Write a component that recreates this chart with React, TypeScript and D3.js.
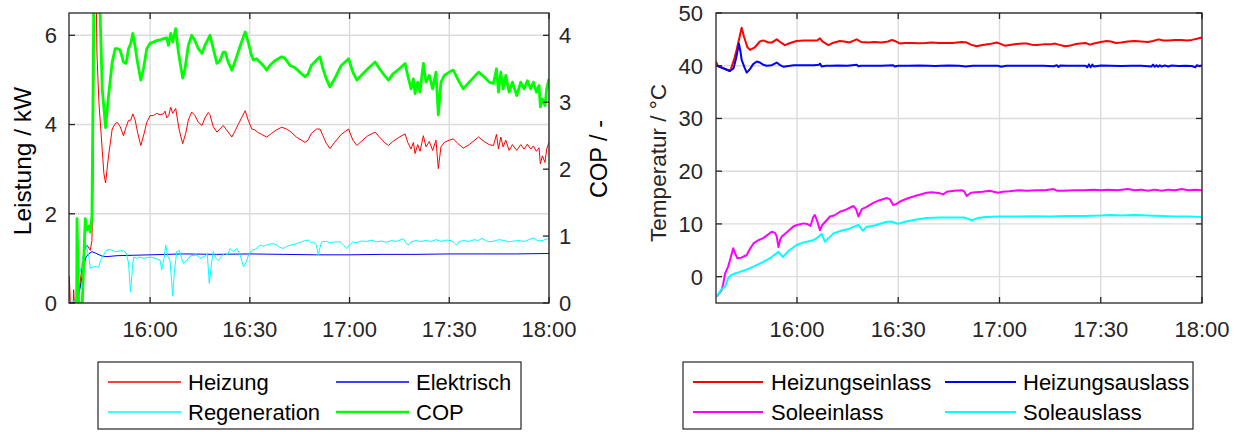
import React from 'react';
import * as d3 from 'd3';

// ---------- data (time in minutes after 15:00) ----------
const timeTicks = ['16:00', '16:30', '17:00', '17:30', '18:00'];
const leistungTicks = [0, 2, 4, 6];
const copTicks = [0, 1, 2, 3, 4];
const tempTicks = [0, 10, 20, 30, 40, 50];

const legendLeft = ['Heizung', 'Elektrisch', 'Regeneration', 'COP'];
const legendRight = ['Heizungseinlass', 'Heizungsauslass', 'Soleeinlass', 'Soleauslass'];

const heizung: [number, number][] = [
  [35.6, 0], [35.7, 0.6], [36.0, 0], [36.9, 0], [37.0, 0.3], [37.2, 0], [38.5, 0.2], [39.5, 0.8], [40.5, 1.26], [41.0, 1.3],
  [42.0, 1.18], [42.5, 1.4], [42.9, 3.0], [43.1, 5.5], [43.3, 7.5], [43.7, 7.5], [44.0, 5.6], [44.6, 4.5], [45.6, 3.42], [46.1, 2.9],
  [46.6, 2.69], [47.5, 3.3], [48.6, 3.9], [49.5, 4.02], [50.1, 4.05], [51.0, 3.95], [52.0, 3.75], [52.8, 3.95], [53.5, 4.09], [54.2, 4.1],
  [54.8, 4.24], [55.5, 4.1], [56.3, 3.8], [57.2, 3.53], [58.2, 3.8], [59, 4.05], [60, 4.2], [61, 4.2], [62, 4.25], [63, 4.22],
  [64, 4.24], [64.5, 4.3], [65, 4.15], [65.6, 4.2], [66.2, 4.39], [66.8, 4.25], [67.2, 4.3], [67.7, 4.36], [68.7, 3.9], [69.8, 3.57],
  [70.7, 3.8], [71.5, 4.1], [72.5, 4.28], [73.5, 4.2], [74.5, 4.05], [75.6, 3.98], [76.5, 4.15], [77.5, 4.27], [78, 4.22], [79, 3.95],
  [80.1, 3.83], [81, 3.9], [82, 3.98], [83, 3.88], [84.6, 3.72], [85.5, 3.85], [86.5, 4.0], [87.5, 4.15], [88.6, 4.31], [89.5, 4.1],
  [90.6, 3.9], [91.5, 3.88], [92.5, 3.82], [93.5, 3.78], [95.1, 3.72], [96.5, 3.8], [98, 3.88], [99.6, 3.94], [101, 3.9], [102.1, 3.85],
  [104, 3.72], [106.6, 3.6], [107.5, 3.65], [108.5, 3.8], [110.1, 3.9], [111.1, 3.9], [112, 3.75], [113, 3.58], [114.1, 3.46], [115.5, 3.6],
  [117.5, 3.78], [119.7, 3.9], [121, 3.65], [122.2, 3.53], [123.5, 3.62], [125.5, 3.75], [127.7, 3.83], [129, 3.72], [130.5, 3.6], [131.7, 3.53],
  [133, 3.62], [135, 3.72], [136.7, 3.79], [137.5, 3.6], [138.5, 3.45], [139.2, 3.6], [139.7, 3.35], [140.5, 3.55], [141.2, 3.4], [142.2, 3.75],
  [143, 3.5], [144, 3.62], [145, 3.42], [146, 3.65], [146.7, 3.01], [147.5, 3.5], [148.5, 3.6], [150, 3.65], [151.2, 3.68], [152.5, 3.58],
  [154.2, 3.47], [156, 3.55], [158.8, 3.72], [160.5, 3.62], [162, 3.55], [163.3, 3.53], [164.2, 3.78], [164.8, 3.45], [165.5, 3.72], [166.2, 3.5],
  [167, 3.65], [168, 3.42], [169, 3.55], [170.3, 3.42], [171.5, 3.55], [172.5, 3.45], [173.5, 3.56], [174.5, 3.45], [175.3, 3.52], [176.2, 3.4],
  [177, 3.48], [177.4, 3.12], [178, 3.3], [178.8, 3.15], [179.3, 3.45], [180, 3.6],
];

const elektrisch: [number, number][] = [
  [35.6, 0], [38.0, 0], [39.0, 0.36], [40.0, 0.81], [40.7, 1.03], [41.5, 1.1], [42.5, 1.15], [43.5, 1.12], [45.6, 1.05], [47, 1.04],
  [50, 1.06], [55, 1.07], [60, 1.08], [70, 1.1], [80, 1.09], [90, 1.1], [100, 1.09], [110, 1.08], [120, 1.08], [130, 1.09],
  [140, 1.09], [150, 1.1], [160, 1.1], [170, 1.1], [180, 1.11],
];

const regeneration: [number, number][] = [
  [35.6, 0.04], [37.5, 0.04], [38.3, 0.3], [38.7, 0.66], [39.3, 0.8], [40.5, 1.37], [41.6, 1.03], [42.0, 0.78], [43.1, 0.82], [44.5, 0.8],
  [45.1, 0.95], [46.8, 1.18], [48, 1.2], [49.5, 1.15], [51, 1.17], [52, 1.17], [52.8, 1.12], [53.5, 0.9], [54.1, 0.25], [54.6, 0.7],
  [55, 1.03], [56, 1.0], [57, 1.03], [58, 1.0], [60, 1.03], [61.5, 1.0], [63, 0.96], [63.5, 0.74], [64.2, 1.0], [64.7, 1.3],
  [65.3, 1.05], [66.0, 0.95], [66.8, 0.16], [67.3, 0.7], [68, 1.15], [68.8, 1.18], [69.5, 1.0], [70, 0.89], [71, 0.95], [72, 1.05],
  [73, 1.07], [74, 1.08], [75, 1.0], [76.5, 1.05], [77.2, 1.1], [77.8, 0.44], [78.5, 0.9], [79, 1.15], [79.8, 1.0], [80.5, 0.95],
  [81.5, 1.05], [82.5, 1.12], [83.3, 1.08], [84.1, 1.22], [85, 1.15], [86.1, 1.22], [87, 1.1], [88.1, 0.81], [88.8, 0.9], [89.5, 1.05],
  [90.6, 1.18], [91.5, 1.2], [92.5, 1.25], [93.1, 1.3], [94, 1.27], [95, 1.3], [96, 1.32], [97.1, 1.33], [98, 1.3], [99, 1.25],
  [100.1, 1.22], [101, 1.27], [102.5, 1.3], [104, 1.33], [105.5, 1.37], [106.5, 1.4], [107.6, 1.41], [108.5, 1.35], [109.1, 1.37], [110.0, 1.3],
  [110.6, 1.07], [111.3, 1.3], [111.6, 1.37], [113, 1.38], [114, 1.35], [115.5, 1.37], [117.2, 1.37], [118.2, 1.3], [119.2, 1.22], [120, 1.3],
  [121, 1.37], [122, 1.35], [123.5, 1.39], [125, 1.38], [126.7, 1.41], [128, 1.37], [129.5, 1.39], [131, 1.36], [132.5, 1.4], [134, 1.38],
  [135.5, 1.42], [136.2, 1.44], [136.9, 1.35], [137.7, 1.3], [138.5, 1.37], [140, 1.4], [141.5, 1.38], [143, 1.4], [144.5, 1.38], [146, 1.42],
  [147.5, 1.38], [149, 1.41], [150.5, 1.4], [151.5, 1.35], [152.2, 1.3], [153, 1.38], [154.5, 1.4], [156, 1.38], [157.5, 1.42], [158.7, 1.4],
  [159.8, 1.45], [161, 1.4], [162, 1.37], [163.5, 1.39], [165, 1.42], [166.5, 1.4], [168, 1.37], [169.5, 1.39], [171, 1.4], [172.5, 1.38],
  [174, 1.42], [175.3, 1.46], [176.3, 1.41], [177.3, 1.39], [178.5, 1.41], [179.5, 1.44], [180, 1.43],
];

const cop: [number, number][] = [
  [37.9, 0], [38.0, 1.26], [38.2, 0.8], [38.5, 0], [39.6, 0], [40.3, 1.0], [40.5, 1.26], [41.0, 1.09], [41.6, 1.15], [42.0, 1.06],
  [42.5, 1.3], [42.9, 3.5], [43.2, 5.5], [44.3, 6.0], [44.8, 4.6], [45.6, 3.2], [46.6, 2.62], [47.5, 3.1], [48.6, 3.6], [49.5, 3.8],
  [50.2, 3.8], [51.0, 3.78], [52.0, 3.6], [52.8, 3.58], [53.5, 3.8], [54.2, 3.88], [54.8, 4.03], [55.5, 3.83], [56.2, 3.6], [57.2, 3.33],
  [58.0, 3.5], [59.0, 3.8], [60.0, 3.88], [61, 3.9], [62, 3.92], [63, 3.93], [64, 3.95], [65, 3.96], [65.5, 3.85], [66.2, 4.03],
  [66.8, 3.9], [67.7, 4.1], [68.5, 3.75], [69.8, 3.36], [70.5, 3.5], [71.5, 3.85], [72.5, 4.0], [73.5, 3.92], [74.5, 3.8], [75.6, 3.73],
  [76.5, 3.85], [77.5, 3.95], [78, 4.0], [79, 3.8], [80.1, 3.58], [81, 3.62], [82.0, 3.75], [82.6, 3.75], [83.5, 3.6], [84.6, 3.48],
  [85.5, 3.6], [86.5, 3.75], [87.5, 3.9], [88.6, 4.05], [89.5, 3.9], [90.5, 3.7], [91.1, 3.63], [92, 3.65], [93, 3.6], [94, 3.55],
  [95.1, 3.48], [96, 3.55], [97.5, 3.62], [99.6, 3.68], [100.5, 3.66], [102.1, 3.55], [103.5, 3.52], [105, 3.45], [106.6, 3.38], [107.5, 3.42],
  [108.5, 3.55], [110.1, 3.63], [111.1, 3.68], [112, 3.5], [113, 3.35], [114.1, 3.23], [115.5, 3.35], [117.5, 3.55], [119.7, 3.65], [121, 3.45],
  [122.2, 3.33], [123.5, 3.4], [125.5, 3.5], [127.7, 3.6], [129, 3.5], [130.5, 3.4], [131.7, 3.33], [133, 3.42], [135, 3.5], [136.7, 3.58],
  [137.5, 3.4], [138.5, 3.2], [139.2, 3.35], [139.7, 3.13], [140.5, 3.3], [141.2, 3.15], [142.2, 3.58], [143, 3.3], [144, 3.4], [145, 3.2],
  [146, 3.45], [146.7, 2.81], [147.5, 3.3], [148.5, 3.4], [150, 3.45], [151.2, 3.48], [152.5, 3.35], [154.2, 3.2], [156, 3.3], [158.8, 3.45],
  [160.5, 3.38], [162, 3.3], [163.3, 3.28], [164.2, 3.5], [164.8, 3.15], [165.5, 3.45], [166.2, 3.2], [167, 3.4], [168, 3.15], [169, 3.3],
  [170.3, 3.1], [171.5, 3.3], [172.5, 3.2], [173.5, 3.32], [174.5, 3.2], [175.3, 3.3], [176.2, 3.15], [177, 3.25], [177.4, 2.93], [178, 3.05],
  [178.8, 2.95], [179.3, 3.2], [180, 3.35],
];

const heizungseinlass: [number, number][] = [
  [36.0, 40.8], [36.5, 40.0], [38, 39.6], [40.1, 39.0], [40.5, 39.5], [41.5, 41.5], [42.1, 43.0], [43.0, 45.5], [43.6, 47.2], [44.3, 45.5],
  [45.3, 43.5], [46.1, 43.0], [47.5, 43.5], [49.0, 44.6], [50, 44.8], [51.5, 44.4], [52.5, 44.4], [54.0, 45.0], [55, 44.5], [56.4, 43.9],
  [58, 44.3], [59.9, 44.7], [62, 44.8], [64, 44.8], [66, 44.8], [66.8, 45.2], [67.5, 44.6], [69.3, 43.9], [70.5, 44.3], [72.7, 44.7],
  [74, 44.6], [75.5, 44.4], [77.7, 45.0], [79, 44.5], [81, 44.4], [83, 44.5], [85, 44.4], [87, 44.6], [88.1, 44.9], [89, 44.7],
  [90.5, 44.2], [92, 44.3], [94, 44.3], [96, 44.25], [98, 44.3], [100, 44.4], [102, 44.3], [104, 44.3], [106, 44.3], [107.5, 44.4],
  [108.8, 44.5], [110.3, 44.4], [111.5, 44.0], [113.2, 43.7], [115, 43.95], [117, 44.1], [119.2, 44.4], [120.5, 44.1], [121.6, 43.8], [123, 43.95],
  [125, 44.1], [127, 44.2], [128.1, 44.2], [129.5, 44.0], [131, 43.95], [133, 44.05], [135, 44.05], [136.5, 44.2], [137.5, 44.0], [139.4, 43.7],
  [141, 43.85], [142.5, 44.1], [144, 44.2], [145.5, 44.3], [146.8, 44.0], [148, 44.2], [150, 44.5], [151.8, 44.7], [153, 44.6], [154.5, 44.3],
  [156, 44.4], [158, 44.6], [160, 44.7], [162, 44.6], [164, 44.5], [165.5, 44.7], [167.1, 45.0], [168.5, 44.8], [170, 44.8], [172, 44.9],
  [174, 44.9], [175.5, 44.8], [177, 44.9], [178.5, 45.1], [179.6, 45.3], [180, 45.3],
];

const heizungsauslass: [number, number][] = [
  [36.0, 40.1], [37, 39.8], [40.1, 39.0], [41.2, 39.5], [42.0, 41.5], [42.8, 44.2], [43.3, 42.5], [43.6, 41.1], [44.5, 39.6], [45.1, 38.7],
  [46, 39.3], [47, 40.3], [48.1, 40.8], [49, 40.6], [50, 40.2], [51, 40.0], [52.5, 40.1], [54.0, 40.6], [55, 40.1], [56, 39.8],
  [57.5, 39.95], [59, 40.1], [62, 40.1], [65, 40.1], [66.5, 40.2], [66.8, 40.4], [67.3, 39.85], [68.5, 40.0], [70, 40.0], [72, 40.05],
  [75, 40.0], [77.7, 40.2], [78.2, 39.9], [79, 40.0], [82, 40.0], [85, 40.0], [88.5, 40.1], [89, 39.85], [90, 40.0], [93, 40.0],
  [96, 40.05], [99, 40.0], [101, 39.95], [102.5, 40.0], [105, 40.05], [108, 40.0], [110, 39.85], [112, 40.0], [116, 40.0], [119.5, 40.0],
  [120.5, 39.8], [122, 40.0], [126, 40.0], [130, 40.0], [133, 40.0], [136, 39.9], [137, 40.1], [137.5, 39.75], [138, 40.05], [140, 40.0],
  [143, 40.0], [145.5, 40.0], [146, 39.7], [146.5, 40.25], [147, 39.7], [147.5, 40.2], [148, 39.85], [150, 40.05], [153, 40.0], [156, 39.95],
  [159, 40.0], [162, 40.0], [165, 39.85], [165.5, 40.2], [166, 39.8], [166.5, 40.1], [167, 39.8], [167.5, 40.1], [168, 39.85], [169, 40.05],
  [170, 39.85], [171, 40.05], [173, 39.95], [175, 40.0], [177, 39.95], [178, 39.7], [178.5, 40.1], [179.3, 39.9], [180, 40.1],
];

const soleeinlass: [number, number][] = [
  [36.2, -3.8], [37.7, -2.5], [38.1, -1.5], [38.7, 0.6], [39.6, 1.9], [40.3, 3.5], [41.1, 5.4], [41.6, 4.5], [42.3, 3.5], [43.5, 3.6],
  [45.1, 4.1], [46, 5.2], [47.1, 6.3], [48.5, 6.9], [50, 7.3], [52.5, 8.5], [53.5, 8.3], [54.0, 7.6], [54.5, 5.6], [55.0, 7.0],
  [55.5, 7.6], [57, 8.4], [58.9, 9.5], [60, 9.8], [61.9, 10.1], [63, 10.0], [64, 9.6], [64.8, 11.3], [65.3, 11.7], [66, 10.5],
  [66.8, 8.8], [67.5, 9.8], [68.5, 10.5], [69.8, 11.4], [71, 11.6], [72.7, 12.3], [74.5, 12.7], [76.7, 13.4], [77.5, 12.8], [78.2, 11.4],
  [79.2, 12.8], [80.5, 13.2], [82.6, 14.0], [84.5, 14.5], [86.6, 14.9], [87.5, 14.7], [88.5, 13.6], [89.5, 13.8], [91, 14.4], [93.5, 15.0],
  [95.5, 15.4], [98.4, 15.9], [100, 16.0], [102.4, 15.8], [103.3, 15.6], [104.4, 16.1], [106.5, 16.3], [108.8, 16.4], [109.5, 16.2], [110.3, 15.3],
  [111.5, 15.9], [113, 16.0], [115, 16.1], [117, 16.3], [119.6, 15.9], [121, 16.1], [123, 16.2], [126, 16.4], [128, 16.3], [131, 16.4],
  [133.5, 16.4], [136, 16.6], [137, 16.3], [139, 16.3], [142, 16.4], [145, 16.4], [148, 16.5], [150, 16.4], [152, 16.5], [155, 16.4],
  [158, 16.6], [160, 16.4], [162, 16.5], [164, 16.3], [166, 16.5], [168, 16.3], [170, 16.5], [172, 16.4], [174, 16.6], [176, 16.4],
  [178, 16.5], [180, 16.4],
];

const soleauslass: [number, number][] = [
  [36.2, -3.8], [37.5, -2.5], [38.7, -1.9], [39.6, -0.3], [40.5, 0.3], [41.6, 0.6], [43.1, 0.9], [44.5, 1.2], [46.1, 1.6], [48, 2.2],
  [50, 2.8], [52, 3.5], [54.5, 4.7], [55.8, 3.7], [57.5, 4.9], [59.9, 6.0], [62, 6.5], [64.8, 6.9], [65.8, 7.3], [67.3, 8.1],
  [68.3, 6.6], [69.5, 7.4], [70.8, 8.2], [73, 8.7], [75.5, 9.1], [78.2, 9.8], [79.5, 8.7], [80.5, 9.4], [83, 9.7], [86.6, 10.4],
  [88, 10.4], [90, 10.0], [92, 10.4], [95, 10.8], [98.4, 11.1], [102.4, 11.2], [106, 11.2], [109.3, 11.2], [110.5, 11.0], [111.8, 10.7],
  [113.5, 11.1], [116, 11.3], [120.1, 11.4], [125, 11.4], [130, 11.45], [135, 11.4], [140, 11.5], [145, 11.5], [150, 11.6], [152.7, 11.7],
  [156, 11.6], [160, 11.7], [164, 11.6], [168, 11.5], [172, 11.4], [176, 11.4], [180, 11.3],
];

// ---------- helpers ----------
const FONT = '"Liberation Sans", Arial, Helvetica, sans-serif';
const AX = '#262626';
const GRID = '#dcdcdc';
const base = new Date(2020, 0, 1, 15, 0, 0).getTime();
const toDate = (m: number) => new Date(base + m * 60000);
const hm = (s: string) => {
  const [h, m] = s.split(':').map(Number);
  return (h - 15) * 60 + m;
};
const fmt = d3.timeFormat('%H:%M');

function Legend({ x0, y0, w, h, items, lineX, textX }: any) {
  const rows = [y0 + 20, y0 + 50];
  return (
    <g>
      <rect x={x0} y={y0} width={w} height={h} fill="white" stroke={AX} strokeWidth={1.2} />
      {items.map((it: any, i: number) => {
        const col = i % 2;
        const row = Math.floor(i / 2);
        const cy = rows[row];
        return (
          <g key={i}>
            <line x1={lineX[col][0]} x2={lineX[col][1]} y1={cy} y2={cy} stroke={it.color} strokeWidth={it.width} />
            <text x={textX[col]} y={cy} dy="0.36em" fontSize={22} fill="#000" fontFamily={FONT}>
              {it.label}
            </text>
          </g>
        );
      })}
    </g>
  );
}

export default function App() {
  // ---------- left panel ----------
  const L = { l: 69, r: 549, t: 13, b: 303 };
  const xL = d3.scaleTime().domain([toDate(35.6), toDate(180)]).range([L.l, L.r]);
  const yP = d3.scaleLinear().domain([0, 6.5]).range([L.b, L.t]);
  const yC = d3.scaleLinear().domain([0, 6.5 / 1.5]).range([L.b, L.t]);

  // ---------- right panel ----------
  const R = { l: 716, r: 1202, t: 13, b: 303 };
  const xR = d3.scaleTime().domain([toDate(36), toDate(180)]).range([R.l, R.r]);
  const yT = d3.scaleLinear().domain([-5, 50]).range([R.b, R.t]);

  const mkLine = (x: any, y: any) =>
    d3
      .line<[number, number]>()
      .x((d) => x(toDate(d[0])))
      .y((d) => y(d[1]));

  const leftSeries = [
    { data: heizung, color: '#ff0000', width: 1, y: yP },
    { data: elektrisch, color: '#0000ff', width: 1, y: yP },
    { data: regeneration, color: '#00ffff', width: 1, y: yP },
    { data: cop, color: '#00ff00', width: 2.8, y: yC },
  ];
  const rightSeries = [
    { data: heizungseinlass, color: '#ff0000', width: 2 },
    { data: heizungsauslass, color: '#0000ff', width: 2 },
    { data: soleeinlass, color: '#ff00ff', width: 2 },
    { data: soleauslass, color: '#00ffff', width: 2 },
  ];

  const tickLen = 6;
  const tickFs = 22;

  return (
    <svg
      width={1237}
      height={432}
      style={{ position: 'absolute', left: 0, top: 0, background: 'white', display: 'block' }}
      fontFamily={FONT}
    >
      <defs>
        <clipPath id="clipL">
          <rect x={L.l} y={L.t} width={L.r - L.l} height={L.b - L.t} />
        </clipPath>
        <clipPath id="clipR">
          <rect x={R.l} y={R.t} width={R.r - R.l} height={R.b - R.t} />
        </clipPath>
      </defs>
      <rect width={1237} height={432} fill="white" />

      {/* ===== LEFT ===== */}
      <g>
        {timeTicks.map((s) => (
          <line key={'gx' + s} x1={xL(toDate(hm(s)))} x2={xL(toDate(hm(s)))} y1={L.t} y2={L.b} stroke={GRID} strokeWidth={1.4} />
        ))}
        {leistungTicks.map((v) => (
          <line key={'gy' + v} x1={L.l} x2={L.r} y1={yP(v)} y2={yP(v)} stroke={GRID} strokeWidth={1.4} />
        ))}
        <g clipPath="url(#clipL)">
          {leftSeries.map((s, i) => (
            <path key={i} d={mkLine(xL, s.y)(s.data) || ''} fill="none" stroke={s.color} strokeWidth={s.width} strokeLinejoin="round" />
          ))}
        </g>
        <rect x={L.l} y={L.t} width={L.r - L.l} height={L.b - L.t} fill="none" stroke={AX} strokeWidth={1.3} />
        {timeTicks.map((s) => {
          const x = xL(toDate(hm(s)));
          return (
            <g key={'tx' + s}>
              <line x1={x} x2={x} y1={L.b} y2={L.b - tickLen} stroke={AX} strokeWidth={1.3} />
              <line x1={x} x2={x} y1={L.t} y2={L.t + tickLen} stroke={AX} strokeWidth={1.3} />
              <text x={x} y={337} textAnchor="middle" fontSize={tickFs} fill={AX}>
                {fmt(toDate(hm(s)))}
              </text>
            </g>
          );
        })}
        {leistungTicks.map((v) => (
          <g key={'ty' + v}>
            <line x1={L.l} x2={L.l + tickLen} y1={yP(v)} y2={yP(v)} stroke={AX} strokeWidth={1.3} />
            <text x={57} y={yP(v)} dy="0.36em" textAnchor="end" fontSize={tickFs} fill={AX}>
              {v}
            </text>
          </g>
        ))}
        {copTicks.map((v) => (
          <g key={'tc' + v}>
            <line x1={L.r} x2={L.r - tickLen} y1={yC(v)} y2={yC(v)} stroke={AX} strokeWidth={1.3} />
            <text x={559} y={yC(v)} dy="0.36em" textAnchor="start" fontSize={tickFs} fill={AX}>
              {v}
            </text>
          </g>
        ))}
        <text transform="translate(31,161) rotate(-90)" textAnchor="middle" fontSize={24.5} fill="#000">
          Leistung / kW
        </text>
        <text transform="translate(607,159) rotate(-90)" textAnchor="middle" fontSize={23.5} fill="#000">
          COP / -
        </text>
        <Legend
          x0={98}
          y0={362}
          w={423}
          h={67}
          lineX={[
            [108, 181],
            [336, 409],
          ]}
          textX={[188, 416]}
          items={leftSeries.map((s, i) => ({ label: legendLeft[i], color: s.color, width: i === 3 ? 2.6 : 1.6 }))}
        />
      </g>

      {/* ===== RIGHT ===== */}
      <g>
        {timeTicks.map((s) => (
          <line key={'rgx' + s} x1={xR(toDate(hm(s)))} x2={xR(toDate(hm(s)))} y1={R.t} y2={R.b} stroke={GRID} strokeWidth={1.4} />
        ))}
        {tempTicks.map((v) => (
          <line key={'rgy' + v} x1={R.l} x2={R.r} y1={yT(v)} y2={yT(v)} stroke={GRID} strokeWidth={1.4} />
        ))}
        <g clipPath="url(#clipR)">
          {rightSeries.map((s, i) => (
            <path key={i} d={mkLine(xR, yT)(s.data) || ''} fill="none" stroke={s.color} strokeWidth={s.width} strokeLinejoin="round" />
          ))}
        </g>
        <rect x={R.l} y={R.t} width={R.r - R.l} height={R.b - R.t} fill="none" stroke={AX} strokeWidth={1.3} />
        {timeTicks.map((s) => {
          const x = xR(toDate(hm(s)));
          return (
            <g key={'rtx' + s}>
              <line x1={x} x2={x} y1={R.b} y2={R.b - tickLen} stroke={AX} strokeWidth={1.3} />
              <line x1={x} x2={x} y1={R.t} y2={R.t + tickLen} stroke={AX} strokeWidth={1.3} />
              <text x={x} y={337} textAnchor="middle" fontSize={tickFs} fill={AX}>
                {fmt(toDate(hm(s)))}
              </text>
            </g>
          );
        })}
        {tempTicks.map((v) => (
          <g key={'rty' + v}>
            <line x1={R.l} x2={R.l + tickLen} y1={yT(v)} y2={yT(v)} stroke={AX} strokeWidth={1.3} />
            <line x1={R.r} x2={R.r - tickLen} y1={yT(v)} y2={yT(v)} stroke={AX} strokeWidth={1.3} />
            <text x={703} y={yT(v)} dy="0.36em" textAnchor="end" fontSize={tickFs} fill={AX}>
              {v}
            </text>
          </g>
        ))}
        <text transform="translate(666,163) rotate(-90)" textAnchor="middle" fontSize={22.5} fill={AX}>
          Temperatur / °C
        </text>
        <Legend
          x0={683}
          y0={362}
          w={510}
          h={67}
          lineX={[
            [693, 763],
            [945, 1016],
          ]}
          textX={[771, 1023]}
          items={rightSeries.map((s, i) => ({ label: legendRight[i], color: s.color, width: 2.2 }))}
        />
      </g>
    </svg>
  );
}
